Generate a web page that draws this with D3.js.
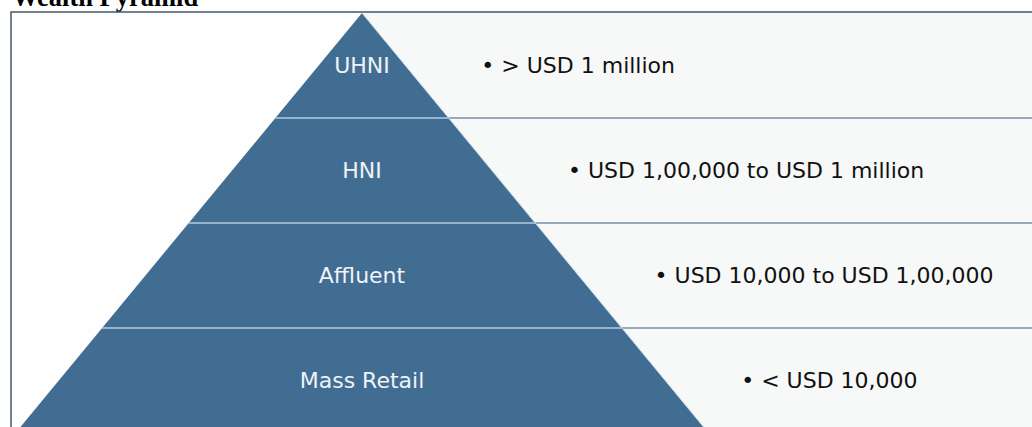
<!DOCTYPE html>
<html lang="en">
<head>
  <meta charset="UTF-8" />
  <title>Wealth Pyramid</title>
  <script src="https://d3js.org/d3.v7.min.js"></script>
  <style>
    html, body { margin: 0; padding: 0; background: #fff; overflow: hidden; }
    #chart { display: block; }
    .title { font-family: "Liberation Serif", "Times New Roman", serif; font-weight: bold; font-size: 26.5px; fill: #000; }
    .tier-label { font-family: "DejaVu Sans", Verdana, sans-serif; font-size: 22px; fill: #eef3f8; }
    .range-label { font-family: "DejaVu Sans", Verdana, sans-serif; font-size: 22px; fill: #111; }
  </style>
</head>
<body>
  <svg id="chart" width="1032" height="427"></svg>

  <script>
    // tiers, top to bottom
    const tiers  = ['UHNI', 'HNI', 'Affluent', 'Mass Retail'];
    const ranges = ['> USD 1 million', 'USD 1,00,000 to USD 1 million', 'USD 10,000 to USD 1,00,000', '< USD 10,000'];

    const W = 1032, H = 427;
    const frameX = 11, frameY = 12;
    const apexX = 362, topY = 13, baseY = 433, baseHalf = 346.5;
    const textGap = 76;

    const svg = d3.select('#chart');

    const y = d3.scaleBand().domain(tiers).range([topY, baseY]).padding(0);
    const half = d3.scaleLinear().domain([topY, baseY]).range([0, baseHalf]);

    // page background + title
    svg.append('rect').attr('width', W).attr('height', H).attr('fill', '#fefefe');
    svg.append('text').attr('class', 'title').attr('x', 12).attr('y', 6).text('Wealth Pyramid');

    // right description panel
    svg.append('rect')
      .attr('x', apexX).attr('y', topY)
      .attr('width', W - apexX).attr('height', H - topY)
      .attr('fill', '#f7f8f8');

    // separators on the panel
    svg.selectAll('.sep').data(tiers.slice(1)).join('line')
      .attr('class', 'sep')
      .attr('x1', apexX).attr('x2', W)
      .attr('y1', d => y(d)).attr('y2', d => y(d))
      .attr('stroke', '#7890a8').attr('stroke-width', 1.5);

    // pyramid bands
    const bandPath = d => {
      const y0 = y(d), y1 = y(d) + y.bandwidth();
      return `M${apexX - half(y0)},${y0}L${apexX + half(y0)},${y0}L${apexX + half(y1)},${y1}L${apexX - half(y1)},${y1}Z`;
    };
    svg.selectAll('.band').data(tiers).join('path')
      .attr('class', 'band')
      .attr('d', bandPath)
      .attr('fill', '#426d92');

    // light edge on right slope
    svg.append('line')
      .attr('x1', apexX).attr('y1', topY)
      .attr('x2', apexX + half(baseY)).attr('y2', baseY)
      .attr('stroke', '#c9dbe9').attr('stroke-width', 1);

    // light separators inside pyramid
    svg.selectAll('.psep').data(tiers.slice(1)).join('line')
      .attr('class', 'psep')
      .attr('x1', d => apexX - half(y(d))).attr('x2', d => apexX + half(y(d)))
      .attr('y1', d => y(d)).attr('y2', d => y(d))
      .attr('stroke', '#b3cde2').attr('stroke-width', 1.5);

    // tier labels
    svg.selectAll('.tier-label').data(tiers).join('text')
      .attr('class', 'tier-label')
      .attr('x', apexX)
      .attr('y', d => y(d) + y.bandwidth() / 2)
      .attr('dy', '0.36em')
      .attr('text-anchor', 'middle')
      .text(d => d);

    // range descriptions
    svg.selectAll('.range-label').data(tiers).join('text')
      .attr('class', 'range-label')
      .attr('x', d => apexX + half(y(d) + y.bandwidth() / 2) + textGap)
      .attr('y', d => y(d) + y.bandwidth() / 2)
      .attr('dy', '0.36em')
      .text((d, i) => '\u2022 ' + ranges[i]);

    // frame
    svg.append('path')
      .attr('d', `M${frameX},${H}V${frameY}H${W}`)
      .attr('fill', 'none')
      .attr('stroke', '#44576b').attr('stroke-width', 1.5);
  </script>
</body>
</html>
